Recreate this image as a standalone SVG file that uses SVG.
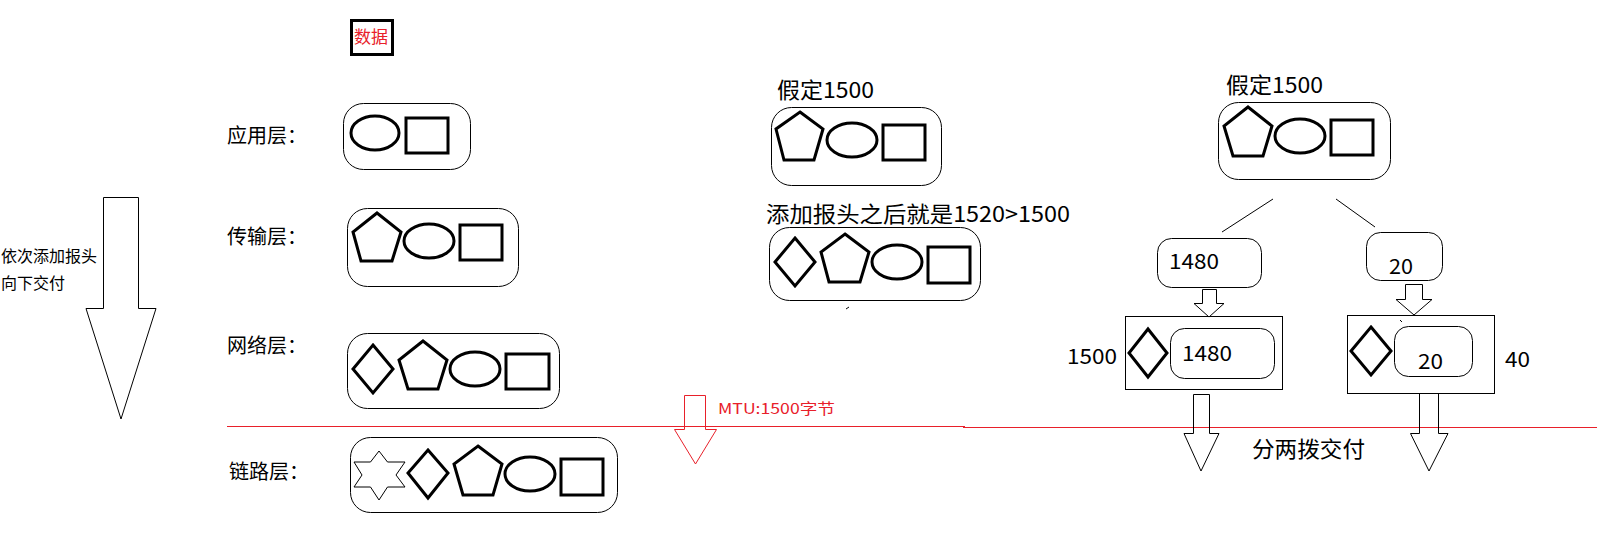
<svg xmlns="http://www.w3.org/2000/svg" width="1604" height="555" viewBox="0 0 1604 555">
<style>
text{font-family:"Noto Sans CJK SC","Microsoft YaHei",sans-serif;fill:#000}
.lbl{font-size:20px}
.num{font-size:21px}
.box{fill:none;stroke:#000;stroke-width:1}
.sh{fill:none;stroke:#000;stroke-width:3;stroke-linejoin:miter}
.thin{fill:none;stroke:#000;stroke-width:1}
.red{fill:none;stroke:#e8202a;stroke-width:1}
.redt{fill:#e8202a}
</style>
<rect width="1604" height="555" fill="#fff"/>

<g id="data">
<rect x="351.5" y="20.5" width="41" height="34" fill="none" stroke="#000" stroke-width="3"/>
<text x="354" y="43" class="redt" style="font-size:17px">数据</text>
</g>

<g id="side-arrow">
<polygon class="thin" points="103.5,197.5 138.5,197.5 138.5,308.5 156,308.5 121,419 86,308.5 103.5,308.5"/>
<text x="1" y="262" style="font-size:16px">依次添加报头</text>
<text x="1" y="289" style="font-size:16px">向下交付</text>
</g>

<g id="app-layer">
<text x="227" y="143" class="lbl">应用层：</text>
<rect class="box" x="343.5" y="103.5" width="127" height="66" rx="20"/>
<ellipse class="sh" cx="375" cy="133" rx="24" ry="17"/>
<rect class="sh" x="406" y="118" width="42" height="35"/>
</g>

<g id="transport-layer">
<text x="227" y="244" class="lbl">传输层：</text>
<rect class="box" x="347.5" y="208.5" width="171" height="78" rx="20"/>
<polygon class="sh" points="377,213 401,232 392,261 361,261 353,232"/>
<ellipse class="sh" cx="429" cy="241" rx="25" ry="17"/>
<rect class="sh" x="460" y="225" width="42" height="35"/>
</g>

<g id="network-layer">
<text x="227" y="353" class="lbl">网络层：</text>
<rect class="box" x="347.5" y="333.5" width="212" height="75" rx="20"/>
<polygon class="sh" points="373,345 393,369 373,393 353,369"/>
<polygon class="sh" points="423,341 447,360 438,389 408,389 399,360"/>
<ellipse class="sh" cx="475" cy="369" rx="25" ry="17"/>
<rect class="sh" x="506" y="354" width="43" height="35"/>
</g>

<g id="link-layer">
<text x="229" y="479" class="lbl">链路层：</text>
<rect class="box" x="350.5" y="437.5" width="267" height="75" rx="20"/>
<polygon class="box" points="379,451 387.5,462 405,462 396,475 405,487 387.5,487 379,500 370.5,487 354,487 362,475 354,462 370.5,462"/>
<polygon class="sh" points="428,450 448,473 428,498 408,473"/>
<polygon class="sh" points="478,446 502,464 493,495 463,495 454,464"/>
<ellipse class="sh" cx="530" cy="474" rx="25" ry="17"/>
<rect class="sh" x="561" y="459" width="42" height="36"/>
</g>

<g id="mtu">
<line class="red" x1="227" y1="426.5" x2="965" y2="426.5"/>
<line class="red" x1="963" y1="427.5" x2="1597" y2="427.5"/>
<polygon class="red" points="684.5,395.5 705.5,395.5 705.5,429.5 716.5,429.5 695.5,464 674.5,429.5 684.5,429.5"/>
<text x="718" y="414" class="redt" style="font-size:15px" textLength="117" lengthAdjust="spacingAndGlyphs">MTU:1500字节</text>
</g>

<g id="assume-1">
<text x="777" y="98" style="font-size:22px" textLength="97" lengthAdjust="spacingAndGlyphs">假定1500</text>
<rect class="box" x="771.5" y="107.5" width="170" height="78" rx="20"/>
<polygon class="sh" points="800,112 823,129 814,160 784,160 776,129"/>
<ellipse class="sh" cx="852" cy="140" rx="25" ry="17"/>
<rect class="sh" x="883" y="125" width="42" height="35"/>
</g>

<g id="with-header">
<text x="766" y="222" style="font-size:22px" textLength="304" lengthAdjust="spacingAndGlyphs">添加报头之后就是1520&gt;1500</text>
<rect class="box" x="769.5" y="227.5" width="211" height="73" rx="20"/>
<polygon class="sh" points="795,238 815,262 795,286 775,262"/>
<polygon class="sh" points="845,234 869,252 860,282 829,282 821,252"/>
<ellipse class="sh" cx="897" cy="262" rx="25" ry="17"/>
<rect class="sh" x="928" y="247" width="42" height="36"/>
<line x1="846" y1="309" x2="849" y2="307" stroke="#000" stroke-width="1"/>
</g>

<g id="assume-2">
<text x="1226" y="93" style="font-size:22px" textLength="97" lengthAdjust="spacingAndGlyphs">假定1500</text>
<rect class="box" x="1218.5" y="102.5" width="172" height="77" rx="20"/>
<polygon class="sh" points="1248,107 1272,126 1263,156 1233,156 1224,126"/>
<ellipse class="sh" cx="1300" cy="136" rx="25" ry="17"/>
<rect class="sh" x="1331" y="120" width="42" height="35"/>
</g>

<g id="part-1480">
<rect class="box" x="1157.5" y="238.5" width="104" height="49" rx="14"/>
<text x="1169" y="269" class="num" textLength="50" lengthAdjust="spacingAndGlyphs">1480</text>
</g>

<g id="part-20">
<rect class="box" x="1366.5" y="232.5" width="76" height="48" rx="14"/>
<text x="1389" y="274" class="num" textLength="24" lengthAdjust="spacingAndGlyphs">20</text>
</g>

<g id="frame-1500">
<text x="1067" y="364" class="num" textLength="50" lengthAdjust="spacingAndGlyphs">1500</text>
<rect class="box" x="1125.5" y="316.5" width="157" height="73"/>
<polygon class="sh" points="1148,329 1167,353 1148,377 1129,353"/>
<rect class="box" x="1170.5" y="328.5" width="104" height="50" rx="14"/>
<text x="1182" y="361" class="num" textLength="50" lengthAdjust="spacingAndGlyphs">1480</text>
</g>

<g id="frame-40">
<rect class="box" x="1347.5" y="315.5" width="147" height="78"/>
<polygon class="sh" points="1371,327 1391,351 1371,375 1351,351"/>
<rect class="box" x="1394.5" y="326.5" width="78" height="50" rx="14"/>
<line x1="1400" y1="320" x2="1402" y2="322" stroke="#000" stroke-width="1"/>
<text x="1418" y="369" class="num" textLength="25" lengthAdjust="spacingAndGlyphs">20</text>
<text x="1505" y="367" class="num" textLength="25" lengthAdjust="spacingAndGlyphs">40</text>
</g>

<g id="connectors">
<line x1="1273" y1="199" x2="1222" y2="232" stroke="#000" stroke-width="1"/>
<line x1="1336" y1="199" x2="1375" y2="227" stroke="#000" stroke-width="1"/>
<polygon class="thin" points="1202.5,289.5 1216.5,289.5 1216.5,303.5 1224,303.5 1209,317 1194,303.5 1202.5,303.5"/>
<polygon class="thin" points="1405.5,284.5 1422.5,284.5 1422.5,299.5 1432,299.5 1414,315 1396,299.5 1405.5,299.5"/>
<polygon class="thin" points="1193.5,394.5 1209.5,394.5 1209.5,433.5 1219,433.5 1201,471 1184,433.5 1193.5,433.5"/>
<polygon class="thin" points="1419.5,393.5 1438.5,393.5 1438.5,433.5 1448,433.5 1429,471 1410.5,433.5 1419.5,433.5"/>
</g>

<g id="split-label">
<text x="1252" y="457" style="font-size:22px" textLength="113" lengthAdjust="spacingAndGlyphs">分两拨交付</text>
</g>
</svg>
